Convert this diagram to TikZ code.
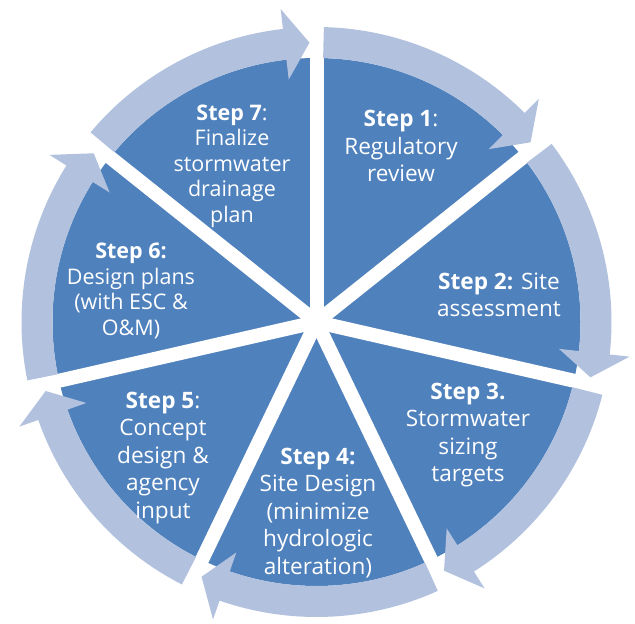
\documentclass[tikz,border=0pt]{standalone}
\usepackage{fontspec}
\setmainfont{Open Sans}
\usetikzlibrary{math}
\definecolor{pieBlue}{RGB}{79,129,189}
\definecolor{ringBlue}{RGB}{178,194,222}

\begin{document}
\begin{tikzpicture}[x=1pt, y=1pt]
	\tikzmath{
		\cx      = 316.5; %center of the wheel
		\cy      = 302;   %center of the wheel
		\pieR    = 264;   %radius of the pie
		\bandIn  = 264;   %inner radius of the arrow band
		\bandOut = 295;   %outer radius of the arrow band
		\bandMid = (\bandIn + \bandOut)/2;
		\headIn  = 244;   %arrow head, inner corner
		\headOut = 315;   %arrow head, outer corner
		\gapW    = 14;    %width of the white cuts
		\gapA    = (\gapW/2)/\bandMid*180/pi; %half a cut, as an angle
		\headA   = 5.1;   %length of the arrow head (deg)
		\segA    = 360/7; %one step of the cycle
	}
	\tikzstyle{StepText}  = [text=white, align=center, font=\fontsize{22.6}{27.5}\selectfont]
	\tikzstyle{SmallText} = [StepText, font=\fontsize{21.5}{25.5}\selectfont]
	\tikzstyle{ArrowBand} = [fill=ringBlue]
	\tikzstyle{GapLine}   = [white, line width=\gapW pt]
	
	\useasboundingbox (0,0) rectangle (635,624);
	
	%%%%%%%%%%%%%%%%%%%%%%%%%%===---PIE AND RING---===%%%%%%%%%%%%%%%%%%%%%%%%%%
	\begin{scope}[shift={(\cx,\cy)}]
		\fill[pieBlue] (0,0) circle[radius=\pieR];
		\foreach \i in {0,...,6}
			\draw[GapLine] (0,0) -- ({90-\i*\segA}:\bandOut);
		\foreach \i [evaluate=\i as \s using 90-\i*\segA-\gapA,
		             evaluate=\i as \t using 90-(\i+1)*\segA+\gapA,
		             evaluate=\i as \h using 90-(\i+1)*\segA+\gapA+\headA] in {0,...,6}
			\fill[ArrowBand] (\s:\bandIn) arc[start angle=\s, end angle=\h, radius=\bandIn]
				-- (\h:\headIn) -- (\t:\bandMid) -- (\h:\headOut) -- (\h:\bandOut)
				arc[start angle=\h, end angle=\s, radius=\bandOut] -- cycle;
	\end{scope}
	
	%%%%%%%%%%%%%%%%%%%%%%%%%%===---STEPS---===%%%%%%%%%%%%%%%%%%%%%%%%%%
	\node (step1) [StepText]  at (401,478)   {\textbf{Step 1}:\\Regulatory\\review};
	\node (step2) [StepText]  at (499,329)   {\textbf{Step 2:} Site\\assessment};
	\node (step3) [StepText]  at (468,189)   {\textbf{Step 3.}\\Stormwater\\sizing\\targets};
	\node (step4) [StepText]  at (318,111)   {\textbf{Step 4:}\\Site Design\\(minimize\\hydrologic\\alteration)};
	\node (step5) [StepText]  at (163,166)   {\textbf{Step 5}:\\Concept\\design \&\\agency\\input};
	\node (step6) [SmallText] at (131,333)   {\textbf{Step 6:}\\Design plans\\(with ESC \&\\O\&M)};
	\node (step7) [SmallText] at (232,458)   {\textbf{Step 7}:\\Finalize\\stormwater\\drainage\\plan};
\end{tikzpicture}
\end{document}
